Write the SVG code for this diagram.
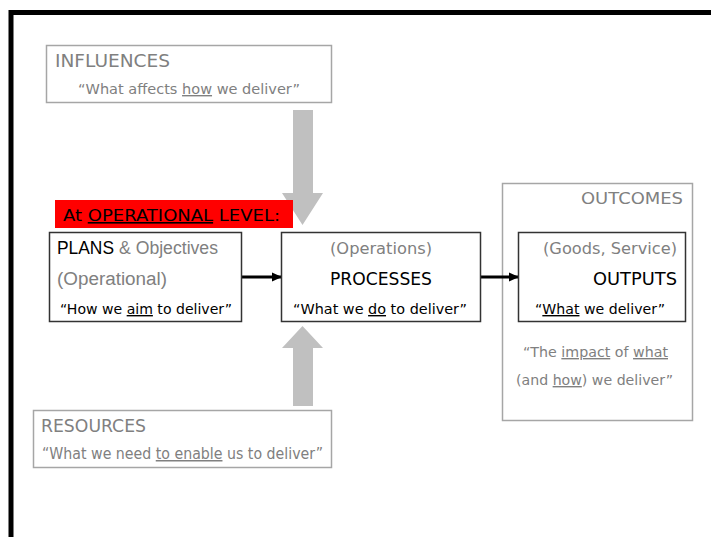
<svg xmlns="http://www.w3.org/2000/svg" width="711" height="537" viewBox="0 0 711 537">
<style>
.c{font-family:"DejaVu Sans","Liberation Sans",sans-serif}
.a{font-family:"Liberation Sans",Arial,sans-serif}
.g{fill:#808080}
.k{fill:#000}
.u{text-decoration:underline}
.gb{fill:#fff;stroke:#a6a6a6;stroke-width:1.5}
.bb{fill:#fff;stroke:#333;stroke-width:1.5}
.ga{fill:#c0c0c0}
</style>
<defs>
<marker id="ah" markerWidth="10" markerHeight="10" refX="9" refY="5" orient="auto" markerUnits="userSpaceOnUse">
<path d="M0,0.5 L10,5 L0,9.5 Z" fill="#000"/>
</marker>
</defs>
<rect width="711" height="537" fill="#fff"/>
<path d="M11,540 V12.5 H715" fill="none" stroke="#000" stroke-width="5"/>

<g id="influences">
<rect class="gb" x="46.5" y="45.5" width="285" height="57"/>
<text class="c g" x="55" y="67" font-size="17" textLength="115" lengthAdjust="spacingAndGlyphs">INFLUENCES</text>
<text class="c g" x="78" y="94" font-size="14" textLength="222" lengthAdjust="spacingAndGlyphs">“What affects <tspan class="u">how</tspan> we deliver”</text>
</g>

<g id="outcomes">
<rect class="gb" x="502.5" y="183.5" width="190" height="237"/>
<text class="c g" x="683" y="204" font-size="16" text-anchor="end" textLength="102" lengthAdjust="spacingAndGlyphs">OUTCOMES</text>
<text class="c g" x="523" y="357" font-size="14" textLength="145" lengthAdjust="spacingAndGlyphs">“The <tspan class="u">impact</tspan> of <tspan class="u">what</tspan></text>
<text class="c g" x="516" y="385" font-size="14" textLength="157" lengthAdjust="spacingAndGlyphs">(and <tspan class="u">how</tspan>) we deliver”</text>
</g>

<g id="resources">
<rect class="gb" x="33.5" y="410.5" width="298" height="57"/>
<text class="c g" x="41" y="432" font-size="17" textLength="105" lengthAdjust="spacingAndGlyphs">RESOURCES</text>
<text class="c g" x="42" y="459" font-size="15" textLength="281" lengthAdjust="spacingAndGlyphs">“What we need <tspan class="u">to enable</tspan> us to deliver”</text>
</g>

<g id="connectors">
<polygon class="ga" points="293,110 313,110 313,193 323,193 302.5,225 282,193 293,193"/>
<polygon class="ga" points="302.5,326 323,348 313,348 313,406 293,406 293,348 282,348"/>
<line x1="241" y1="277" x2="281" y2="277" stroke="#000" stroke-width="3" marker-end="url(#ah)"/>
<line x1="480" y1="277" x2="518" y2="277" stroke="#000" stroke-width="3" marker-end="url(#ah)"/>
</g>

<g id="level-label">
<rect x="55" y="200" width="238" height="28" fill="#ff0000"/>
<text class="c k" x="63" y="221" font-size="16" textLength="217" lengthAdjust="spacingAndGlyphs">At <tspan class="u">OPERATIONAL</tspan> LEVEL:</text>
</g>

<g id="plans">
<rect class="bb" x="49.5" y="232.5" width="192" height="89"/>
<text class="a k" x="57" y="254" font-size="18" textLength="57" lengthAdjust="spacingAndGlyphs">PLANS</text>
<text class="a g" x="119" y="254" font-size="18" textLength="99" lengthAdjust="spacingAndGlyphs">&amp; Objectives</text>
<text class="a g" x="57" y="285" font-size="18" textLength="110" lengthAdjust="spacingAndGlyphs">(Operational)</text>
<text class="c k" x="60" y="314" font-size="14" textLength="172" lengthAdjust="spacingAndGlyphs">“How we <tspan class="u">aim</tspan> to deliver”</text>
</g>

<g id="processes">
<rect class="bb" x="281.5" y="232.5" width="199" height="89"/>
<text class="c g" x="381" y="254" font-size="16" text-anchor="middle" textLength="102" lengthAdjust="spacingAndGlyphs">(Operations)</text>
<text class="c k" x="381" y="285" font-size="17" text-anchor="middle" textLength="102" lengthAdjust="spacingAndGlyphs">PROCESSES</text>
<text class="c k" x="293" y="314" font-size="14" textLength="174" lengthAdjust="spacingAndGlyphs">“What we <tspan class="u">do</tspan> to deliver”</text>
</g>

<g id="outputs">
<rect class="bb" x="518.5" y="232.5" width="167" height="89"/>
<text class="c g" x="677" y="254" font-size="16" text-anchor="end" textLength="134" lengthAdjust="spacingAndGlyphs">(Goods, Service)</text>
<text class="c k" x="677" y="285" font-size="17" text-anchor="end" textLength="84" lengthAdjust="spacingAndGlyphs">OUTPUTS</text>
<text class="c k" x="535" y="314" font-size="14" textLength="130" lengthAdjust="spacingAndGlyphs">“<tspan class="u">What</tspan> we deliver”</text>
</g>
</svg>
